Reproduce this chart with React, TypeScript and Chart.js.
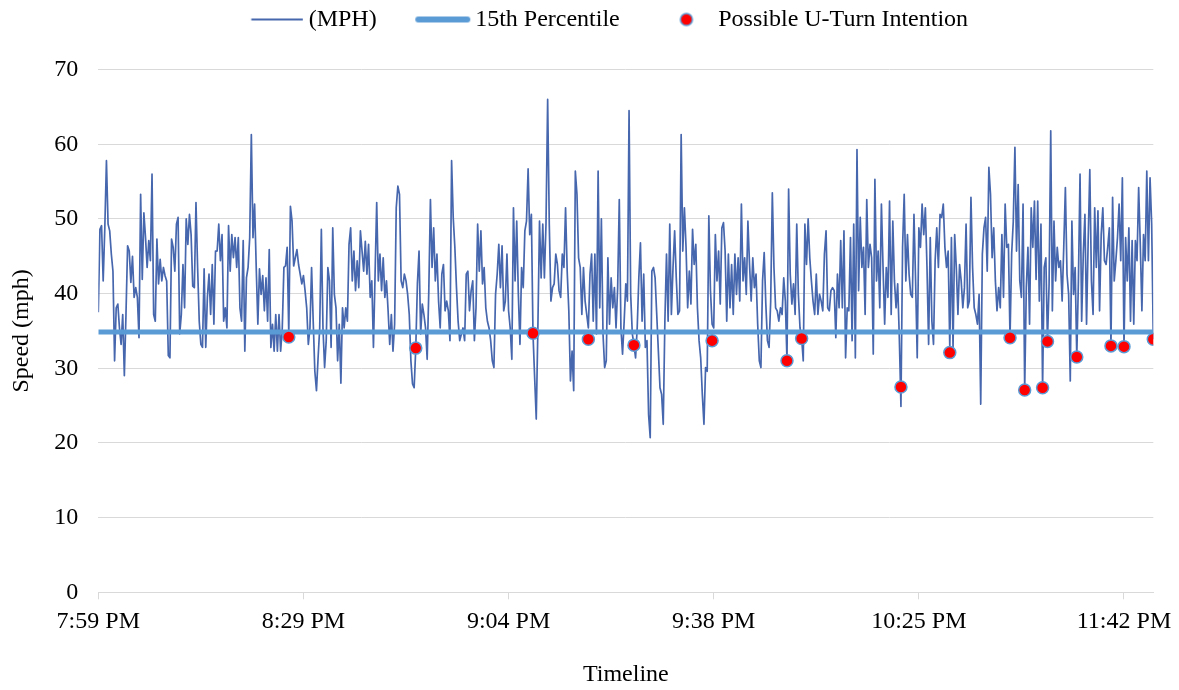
import React, { useEffect, useRef } from "react";
import { Chart, registerables } from "chart.js";

Chart.register(...registerables);

// Speed samples (mph), one per recorded sample, left to right
const speedMph: number[] = [
  // 7:59 PM ->
  37.5, 48.6, 49.1, 41.7, 48.8, 57.8, 49.3, 48.4, 45.3, 43.0,
  31.0, 38.1, 38.6, 35.4, 33.2, 37.2, 29.0, 37.2, 46.4, 45.7,
  41.5, 45.0, 39.5, 40.8, 39.5, 34.1, 53.3, 41.9, 50.8, 47.5,
  43.5, 47.1, 44.4, 56.0, 37.2, 36.3, 47.3, 41.3, 44.6, 41.7,
  43.5, 42.4, 41.7, 31.7, 31.4, 47.3, 46.2, 43.0, 49.3, 50.2,
  34.6, 37.2, 43.9, 38.1, 50.0, 46.6, 50.6, 47.9, 41.0, 40.8,
  52.2, 43.5, 36.3, 33.2, 32.8, 43.3, 32.8, 39.5, 42.6, 37.2,
  43.9, 35.9, 45.7, 45.7, 49.3, 44.4, 47.9, 36.3, 38.1, 35.4,
  49.1, 43.0, 47.9, 44.8, 47.5, 43.5, 47.5, 38.1, 36.3, 47.1,
  32.3, 42.1, 43.5, 47.5, 61.3, 47.5, 52.0, 43.5, 35.9, 43.3,
  39.9, 42.4, 37.7, 42.1, 36.3, 45.9, 32.8, 35.9, 32.3, 37.2, 32.3,
  // 8:29 PM ->
  37.2, 32.3, 35.4, 43.5, 43.7, 46.2, 34.6, 51.7,
  49.7, 43.7, 44.8, 45.9, 43.9, 42.6, 41.3, 42.4, 40.4, 38.1,
  33.2, 35.4, 43.5, 36.3, 29.6, 27.0, 31.4, 35.4, 48.6, 35.4,
  30.1, 33.7, 43.5, 41.7, 32.8, 48.8, 39.9, 38.1, 31.0, 35.9,
  28.0, 38.1, 35.4, 38.1, 36.3, 46.6, 48.8, 41.7, 45.7, 40.4,
  44.4, 40.8, 48.4, 45.7, 43.0, 47.0, 42.6, 46.6, 39.5, 41.7,
  32.8, 42.6, 52.2, 41.7, 45.3, 40.4, 44.8, 39.5, 41.7, 37.7,
  33.2, 37.2, 32.3, 35.9, 51.5, 54.4, 53.3, 41.7, 40.8, 42.6,
  41.7, 39.9, 37.2, 31.0, 27.9, 27.4, 32.7, 41.3, 45.7, 34.6,
  38.6, 37.2, 35.4, 31.2, 40.4, 52.6, 43.5, 48.8, 41.7, 45.3,
  39.0, 35.4, 42.6, 43.9, 37.7, 39.0, 37.7, 33.7, 57.8, 50.2,
  46.2, 40.8, 36.3, 33.7, 34.6,
  // 9:04 PM ->
  35.4, 33.7, 42.6, 43.0, 37.7, 40.4, 41.7, 33.7, 38.1, 49.3,
  43.0, 48.4, 41.3, 43.5, 38.1, 36.3, 35.4, 33.7, 31.0, 30.1,
  39.9, 42.6, 46.6, 40.8, 46.4, 37.7, 39.0, 45.3, 37.7, 35.4,
  31.2, 51.5, 41.7, 49.7, 39.9, 33.2, 43.5, 40.8, 48.4, 49.7,
  56.7, 47.9, 50.6, 34.6, 28.8, 23.2, 35.4, 49.7, 42.1, 49.3,
  42.1, 49.5, 66.0, 49.3, 39.0, 40.8, 41.3, 45.3, 43.9, 40.4,
  39.5, 45.3, 43.5, 51.5, 43.0, 37.7, 28.3, 32.3, 27.0, 56.4,
  53.3, 44.8, 43.5, 37.2, 43.5, 39.0, 37.2, 35.4, 42.6, 45.3,
  36.3, 45.3, 34.6, 56.4, 38.1, 50.0, 34.6, 30.1, 31.0, 44.8,
  35.9, 42.1, 38.1, 40.8, 35.4, 40.8, 52.6, 35.4, 31.9, 36.3,
  41.3, 39.0, 64.5, 39.9, 34.6, 33.2, 31.4, 35.4, 42.1,
  // 9:38 PM ->
  46.8, 36.3, 42.6, 32.8, 33.7, 23.8, 20.7, 43.0, 43.5, 42.1,
  37.2, 32.3, 27.4, 26.5, 22.5, 36.3, 45.3, 36.3, 49.3, 37.2,
  43.5, 48.4, 42.1, 37.2, 37.7, 61.3, 45.7, 51.5, 46.2, 38.1,
  43.0, 38.6, 48.6, 43.9, 46.6, 38.1, 33.7, 31.4, 26.5, 22.5,
  30.1, 29.6, 50.4, 40.4, 35.9, 35.4, 47.9, 41.7, 45.7, 38.6,
  48.8, 49.5, 45.7, 36.3, 45.3, 38.1, 43.9, 37.2, 45.3, 39.9,
  44.8, 39.0, 52.0, 41.7, 44.8, 39.9, 49.7, 43.9, 39.0, 44.8,
  40.8, 42.6, 35.9, 31.0, 30.1, 41.7, 45.5, 38.6, 33.7, 32.8,
  39.0, 53.5, 43.5, 38.1, 37.7, 36.3, 38.1, 37.2, 42.1, 39.0,
  31.0, 54.0, 42.6, 38.6, 41.3, 37.2, 49.3, 39.9, 35.4, 34.1,
  31.0, 49.3, 43.9, 50.0, 44.8, 41.7, 39.0, 37.2, 42.6, 37.2,
  39.9,
  // 10:25 PM ->
  39.0, 37.7, 45.3, 48.4, 38.1, 37.7, 40.4, 40.8, 40.4, 34.1,
  42.6, 38.1, 47.1, 38.1, 48.4, 31.4, 38.1, 37.7, 47.5, 33.7,
  49.3, 31.4, 59.3, 40.4, 50.2, 43.5, 46.2, 37.2, 52.6, 43.5,
  46.6, 44.8, 31.9, 55.3, 41.7, 45.7, 38.1, 52.0, 43.5, 35.9,
  43.5, 39.5, 52.4, 37.2, 49.7, 41.7, 38.1, 41.3, 34.1, 24.9,
  46.2, 53.3, 41.7, 47.9, 42.6, 39.9, 39.5, 50.6, 41.7, 31.4,
  48.8, 46.2, 52.0, 47.9, 51.5, 43.5, 33.2, 47.5, 36.3, 33.2,
  44.4, 48.8, 43.5, 50.6, 50.2, 52.0, 46.2, 43.5, 45.7, 32.8,
  47.5, 32.8, 47.9, 43.5, 37.2, 43.9, 41.7, 38.1, 40.8, 49.3,
  38.1, 39.0, 52.9, 43.5, 38.1, 37.2, 35.9, 39.9, 25.2, 45.3,
  48.8, 50.2, 43.0, 56.9, 53.3, 44.8, 48.8, 41.7, 37.7,
  // -> 11:42 PM and after
  40.8, 38.1, 47.9, 39.5, 52.0, 46.2, 46.6, 34.1, 45.3, 49.7,
  59.6, 45.7, 54.6, 41.7, 39.5, 52.0, 27.1, 40.8, 46.2, 35.9,
  51.5, 46.2, 52.4, 41.9, 52.4, 39.0, 49.3, 27.4, 43.5, 44.8,
  33.6, 41.3, 61.8, 37.7, 49.7, 41.7, 46.2, 43.5, 44.4, 39.0,
  46.2, 54.2, 42.6, 39.9, 28.3, 49.7, 39.9, 43.5, 31.5, 41.7,
  56.0, 36.3, 45.3, 50.6, 35.9, 47.1, 56.6, 41.7, 37.2, 51.5,
  43.5, 51.1, 37.7, 47.9, 51.5, 44.4, 43.9, 46.2, 48.8, 33.0,
  52.9, 41.7, 44.4, 47.5, 52.0, 44.4, 55.5, 32.9, 47.5, 41.7,
  48.8, 36.3, 47.1, 35.9, 47.1, 44.4, 54.2, 46.6, 37.7, 47.9,
  44.4, 56.4, 44.4, 55.5, 49.3, 33.9,
];

const percentile15 = 34.85;

const uTurnIndex: number[] = [117, 195, 267, 301, 329, 377, 423, 432, 493, 523, 560, 569, 580, 583, 601, 622, 630, 648];
const uTurnSpeed: number[] = [34.2, 32.7, 34.7, 33.9, 33.1, 33.7, 31.0, 34.0, 27.5, 32.1, 34.1, 27.1, 27.4, 33.6, 31.5, 33.0, 32.9, 33.9];

const xTickIndex: number[] = [0, 126, 252, 378, 504, 630];
const xTickLabels: string[] = ["7:59 PM", "8:29 PM", "9:04 PM", "9:38 PM", "10:25 PM", "11:42 PM"];

const seriesNames: string[] = ["(MPH)", "15th Percentile", "Possible U-Turn Intention"];
const axisTitles = { x: "Timeline", y: "Speed (mph)" };

const FONT = "'Liberation Serif', 'Times New Roman', serif";
const LINE_COLOR = "#4666AD";
const PCT_COLOR = "#5B9BD5";
const DOT_FILL = "#FF0000";
const GRID = "#D9D9D9";

function legendIcon(kind: number): HTMLCanvasElement {
  const c = document.createElement("canvas");
  c.width = 120;
  c.height = 18;
  const g = c.getContext("2d")!;
  if (kind === 0) {
    g.strokeStyle = LINE_COLOR;
    g.lineWidth = 2;
    g.beginPath();
    g.moveTo(57.5, 9);
    g.lineTo(109, 9);
    g.stroke();
  } else if (kind === 1) {
    g.strokeStyle = PCT_COLOR;
    g.lineWidth = 6;
    g.lineCap = "round";
    g.beginPath();
    g.moveTo(58, 9);
    g.lineTo(107, 9);
    g.stroke();
  } else {
    g.fillStyle = DOT_FILL;
    g.strokeStyle = PCT_COLOR;
    g.lineWidth = 1.5;
    g.beginPath();
    g.arc(83, 9, 6, 0, Math.PI * 2);
    g.fill();
    g.stroke();
  }
  return c;
}

export default function App() {
  const canvasRef = useRef<HTMLCanvasElement | null>(null);

  useEffect(() => {
    document.body.style.margin = "0";
    const canvas = canvasRef.current;
    if (!canvas) return;
    const icons = [legendIcon(0), legendIcon(1), legendIcon(2)];

    const legendBand = {
      id: "legendBand",
      afterInit(chart: any) {
        const lg = chart.legend;
        if (!lg) return;
        const fit = lg.fit;
        lg.fit = function () {
          fit.call(this);
          this.height = 62.9;
        };
      },
    };

    const chart = new Chart(canvas, {
      type: "line",
      data: {
        datasets: [
          {
            label: seriesNames[0],
            data: speedMph.map((v, i) => ({ x: i, y: v })),
            borderColor: LINE_COLOR,
            borderWidth: 1.7,
            pointRadius: 0,
            tension: 0,
            fill: false,
            borderJoinStyle: "round",
            order: 3,
          },
          {
            label: seriesNames[1],
            data: [
              { x: 0, y: percentile15 },
              { x: speedMph.length - 1, y: percentile15 },
            ],
            borderColor: PCT_COLOR,
            borderWidth: 5,
            pointRadius: 0,
            fill: false,
            order: 2,
          },
          {
            label: seriesNames[2],
            data: uTurnIndex.map((ix, k) => ({ x: ix, y: uTurnSpeed[k] })),
            showLine: false,
            pointRadius: 6,
            pointBackgroundColor: DOT_FILL,
            pointBorderColor: PCT_COLOR,
            pointBorderWidth: 1.5,
            order: 1,
          },
        ] as any,
      },
      options: {
        responsive: false,
        animation: false,
        events: [],
        layout: { padding: { top: 6.7, left: 0, right: 0, bottom: 0 } },
        plugins: {
          tooltip: { enabled: false },
          legend: {
            display: true,
            position: "top",
            align: "center",
            labels: {
              usePointStyle: true,
              pointStyleWidth: 85.7,
              padding: 0.8,
              color: "#000",
              font: { family: FONT, size: 24 },
              generateLabels: () =>
                seriesNames.map((text, i) => ({
                  text,
                  pointStyle: icons[i] as any,
                  fontColor: "#000",
                  fillStyle: "rgba(0,0,0,0)",
                  strokeStyle: "rgba(0,0,0,0)",
                  lineWidth: 0,
                  hidden: false,
                  datasetIndex: i,
                })),
            },
          },
        },
        scales: {
          x: {
            type: "linear",
            min: 0,
            max: speedMph.length - 1,
            afterBuildTicks: (scale: any) => {
              scale.ticks = xTickIndex.map((v) => ({ value: v }));
            },
            afterFit: (scale: any) => {
              scale.height = 97.7;
              scale.paddingRight = 25.7;
              scale.paddingLeft = 0;
            },
            ticks: {
              autoSkip: false,
              maxRotation: 0,
              minRotation: 0,
              padding: 8,
              color: "#000",
              font: { family: FONT, size: 24 },
              callback: (value: any) => {
                const k = xTickIndex.indexOf(Number(value));
                return k >= 0 ? xTickLabels[k] : "";
              },
            },
            grid: {
              display: true,
              drawOnChartArea: false,
              drawTicks: true,
              tickLength: 7,
              color: GRID,
              lineWidth: 1,
            },
            border: { display: true, color: GRID, width: 1 },
            title: {
              display: true,
              text: axisTitles.x,
              color: "#000",
              font: { family: FONT, size: 24 },
              padding: { top: 0, bottom: 0.6 },
            },
          },
          y: {
            type: "linear",
            min: 0,
            max: 70,
            afterFit: (scale: any) => {
              scale.width = 98.3;
            },
            ticks: {
              stepSize: 10,
              padding: 20,
              color: "#000",
              font: { family: FONT, size: 24 },
            },
            grid: {
              color: GRID,
              lineWidth: 1,
              drawTicks: false,
            },
            border: { display: false },
            title: {
              display: true,
              text: axisTitles.y,
              color: "#000",
              font: { family: FONT, size: 24 },
              padding: { top: 7, bottom: 0 },
            },
          },
        },
      } as any,
      plugins: [legendBand],
    });

    return () => {
      chart.destroy();
    };
  }, []);

  return (
    <div style={{ width: 1179, height: 690 }}>
      <canvas ref={canvasRef} width={1179} height={690} style={{ display: "block" }} />
    </div>
  );
}
